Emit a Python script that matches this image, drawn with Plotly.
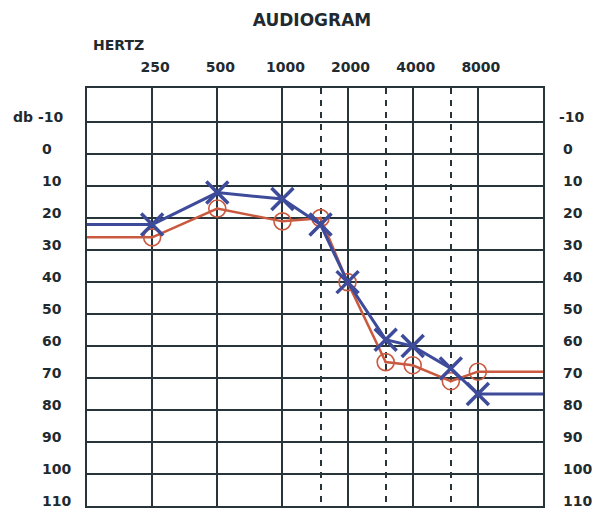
import math
import plotly.graph_objects as go

# ---- data ----
FREQ_RANGE = [125, 16000]
MAIN_FREQS = [250, 500, 1000, 2000, 4000, 8000]
HALF_FREQS = [1500, 3000, 6000]
DB_TICKS = [-10, 0, 10, 20, 30, 40, 50, 60, 70, 80, 90, 100, 110]
DB_RANGE = [110, -20.7]

freqs = [250, 500, 1000, 1500, 2000, 3000, 4000, 6000, 8000]
left_ear_db = [22, 12, 14, 22, 40, 58, 60, 67, 75]    # blue X
right_ear_db = [26, 17, 21, 20, 40, 65, 66, 71, 68]   # red O

BLUE = "#3d4b9a"
RED = "#c95a40"
GRID = "#27343a"
TEXT = "#1f2b30"
FONT = "DejaVu Sans"

fig = go.Figure()

# carry-over lines to the chart edges
for db, col, w in [(right_ear_db, RED, 2.5), (left_ear_db, BLUE, 3)]:
    fig.add_trace(go.Scatter(x=[FREQ_RANGE[0], freqs[0]], y=[db[0], db[0]], mode="lines",
                             line=dict(color=col, width=w), hoverinfo="skip", showlegend=False))
    fig.add_trace(go.Scatter(x=[freqs[-1], FREQ_RANGE[1]], y=[db[-1], db[-1]], mode="lines",
                             line=dict(color=col, width=w), hoverinfo="skip", showlegend=False))

fig.add_trace(go.Scatter(
    x=freqs, y=right_ear_db, mode="lines+markers", name="Right ear",
    line=dict(color=RED, width=2.5),
    marker=dict(symbol="circle-open-dot", size=17, color=RED, line=dict(width=1.6, color=RED)),
    showlegend=False))
fig.add_trace(go.Scatter(
    x=freqs, y=left_ear_db, mode="lines+markers", name="Left ear",
    line=dict(color=BLUE, width=3),
    marker=dict(symbol="x-thin-open", size=22, color=BLUE, line=dict(width=3.5, color=BLUE)),
    showlegend=False))

fig.update_xaxes(
    type="log", range=[math.log10(FREQ_RANGE[0]), math.log10(FREQ_RANGE[1])],
    side="top", tickmode="array", tickvals=MAIN_FREQS, ticktext=[str(f) for f in MAIN_FREQS],
    ticks="", ticklabelstandoff=8, ticklabelshift=3,
    tickfont=dict(family=FONT, size=14, color=TEXT, weight="bold"),
    showgrid=True, gridcolor=GRID, gridwidth=2,
    minor=dict(tickmode="array", tickvals=HALF_FREQS, showgrid=True, gridcolor=GRID,
               gridwidth=2, griddash="6px,6px", ticks=""),
    showline=True, mirror=True, linecolor=GRID, linewidth=2, zeroline=False,
)
fig.update_yaxes(
    range=DB_RANGE, tickmode="array", tickvals=DB_TICKS, showticklabels=False, ticks="",
    showgrid=True, gridcolor=GRID, gridwidth=2, zeroline=False,
    showline=True, mirror=True, linecolor=GRID, linewidth=2,
)

annos = []
lab_font = dict(family=FONT, size=14, color=TEXT, weight="bold")
for db in DB_TICKS:
    neg = -4 if db < 0 else 0
    annos.append(dict(xref="paper", yref="y", x=0, y=db, xshift=-47 + neg, yshift=5,
                      xanchor="left", yanchor="middle", text=str(db), showarrow=False, font=lab_font))
    annos.append(dict(xref="paper", yref="y", x=1, y=db, xshift=18 + neg, yshift=5,
                      xanchor="left", yanchor="middle", text=str(db), showarrow=False, font=lab_font))
annos.append(dict(xref="paper", yref="y", x=0, y=DB_TICKS[0], xshift=-76, yshift=5,
                  xanchor="left", yanchor="middle", text="db", showarrow=False, font=lab_font))
annos.append(dict(xref="paper", yref="paper", x=0, y=1, xshift=4, yshift=43,
                  xanchor="left", yanchor="middle", text="HERTZ", showarrow=False, font=lab_font))

fig.update_layout(
    width=592, height=508,
    margin=dict(l=87, r=49, t=88, b=0),
    paper_bgcolor="white", plot_bgcolor="white",
    title=dict(text="AUDIOGRAM", xref="container", yref="container", x=312 / 592, xanchor="center",
               y=1 - 20 / 508, yanchor="middle",
               font=dict(family=FONT, size=17, color=TEXT, weight="bold")),
    annotations=annos,
)

fig.write_html("out.html", config={"displayModeBar": False},
               post_script="document.body.style.margin='0';document.body.style.overflow='hidden';")
